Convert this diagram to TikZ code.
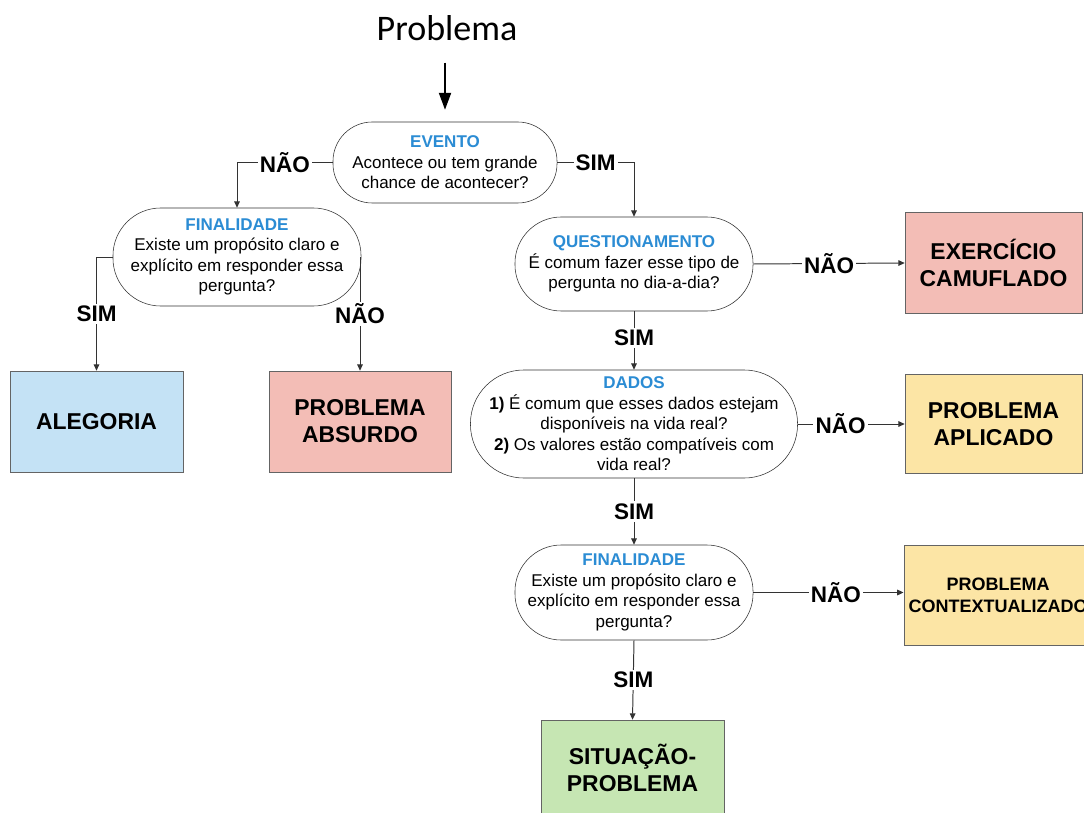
\documentclass[tikz,border=0pt]{standalone}
\usepackage{fontspec}
\setmainfont{Liberation Sans}
\newfontfamily\titlefont{Carlito}
\usetikzlibrary{arrows.meta}

\definecolor{azul}{RGB}{43,140,212}
\definecolor{caixaazul}{RGB}{196,226,245}
\definecolor{caixavermelha}{RGB}{243,189,182}
\definecolor{caixaamarela}{RGB}{252,229,165}
\definecolor{caixaverde}{RGB}{198,230,179}
\definecolor{borda}{RGB}{100,100,100}

\newcommand{\cab}[1]{{\color{azul}\bfseries #1}}

\tikzset{
  pergunta/.style={draw=black!80, fill=white, rounded corners=#1, align=center,
    inner sep=1pt, font=\fontsize{12.1}{14.6}\selectfont},
  pergunta/.default=28pt,
  resultado/.style={draw=borda, fill=#1, align=center,
    font=\bfseries\fontsize{16.3}{19.2}\selectfont},
  rotulo/.style={fill=white, inner sep=1.5pt, font=\bfseries\fontsize{16}{18}\selectfont},
  seta/.style={draw=black!80, line width=0.7pt, -{Triangle[length=4.5pt,width=4pt]}},
  setagrossa/.style={draw=black, line width=1.4pt, -{Triangle[length=12pt,width=8.5pt]}},
}

\begin{document}
\begin{tikzpicture}[x=0.025cm, y=-0.025cm]
\useasboundingbox (0,0) rectangle (1084,813);
\clip (0,0) rectangle (1084,813);

\node[inner sep=0pt] (titulo) at (447,28) {\titlefont\fontsize{25.6}{30}\selectfont Problema};

% perguntas
\node[pergunta, minimum width=5.6cm, minimum height=2.025cm] (evento) at (445,162.5)
  {\cab{EVENTO}\\Acontece ou tem grande\\chance de acontecer?};
\node[pergunta=34pt, minimum width=6.2cm, minimum height=2.45cm] (fin1) at (237,257)
  {\cab{FINALIDADE}\\Existe um propósito claro e\\explícito em responder essa\\pergunta?};
\node[pergunta=33pt, minimum width=5.95cm, minimum height=2.35cm] (quest) at (634,264)
  {\cab{QUESTIONAMENTO}\\É comum fazer esse tipo de\\pergunta no dia-a-dia?};
\node[pergunta=38pt, minimum width=8.175cm, minimum height=2.7cm] (dados) at (634,424)
  {\cab{DADOS}\\\textbf{1)} É comum que esses dados estejam\\disponíveis na vida real?\\
   \textbf{2)} Os valores estão compatíveis com\\vida real?};
\node[pergunta=33pt, minimum width=5.95cm, minimum height=2.375cm] (fin2) at (634,592.5)
  {\cab{FINALIDADE}\\Existe um propósito claro e\\explícito em responder essa\\pergunta?};

% resultados
\node[resultado=caixaazul, minimum width=4.325cm, minimum height=2.525cm] (alegoria) at (96.5,421.5) {ALEGORIA};
\node[resultado=caixavermelha, minimum width=4.55cm, minimum height=2.525cm] (absurdo) at (360,421.5) {PROBLEMA\\ABSURDO};
\node[resultado=caixavermelha, minimum width=4.425cm, minimum height=2.525cm] (camuflado) at (993.5,263) {EXERCÍCIO\\CAMUFLADO};
\node[resultado=caixaamarela, minimum width=4.425cm, minimum height=2.475cm] (aplicado) at (993.5,424) {PROBLEMA\\APLICADO};
\node[resultado=caixaamarela, minimum width=4.65cm, minimum height=2.5cm,
  font=\bfseries\fontsize{12.8}{15.5}\selectfont] (contexto) at (998,595) {PROBLEMA\\CONTEXTUALIZADO};
\node[resultado=caixaverde, minimum width=4.575cm, minimum height=2.4cm] (situacao) at (632.5,768) {SITUAÇÃO-\\PROBLEMA};

% ligacoes
\draw[setagrossa, shorten <=15.5pt, shorten >=8.5pt] (evento.north |- titulo.south) -- (evento.north);
\draw[seta] (evento.west) -| node[rotulo, pos=.25] {NÃO} (fin1.north);
\draw[seta] (evento.east) -| node[rotulo, pos=.25] {SIM} (quest.north);
\draw[seta] (fin1.west) -| node[rotulo, pos=.75] {SIM} (alegoria.north);
\draw[seta] (fin1.east) -| node[rotulo, pos=.75] {NÃO} (absurdo.north);
\draw[seta] (quest.east) -- node[rotulo] {NÃO} (camuflado.west);
\draw[seta] (quest.south) -- node[rotulo, pos=.45] {SIM} (dados.north);
\draw[seta] (dados.east) -- node[rotulo, pos=.4] {NÃO} (aplicado.west);
\draw[seta] (dados.south) -- node[rotulo] {SIM} (fin2.north);
\draw[seta] (fin2.east) -- node[rotulo, pos=.55] {NÃO} (fin2.east -| contexto.west);
\draw[seta] (fin2.south) -- node[rotulo] {SIM} (situacao.north);

\end{tikzpicture}
\end{document}
